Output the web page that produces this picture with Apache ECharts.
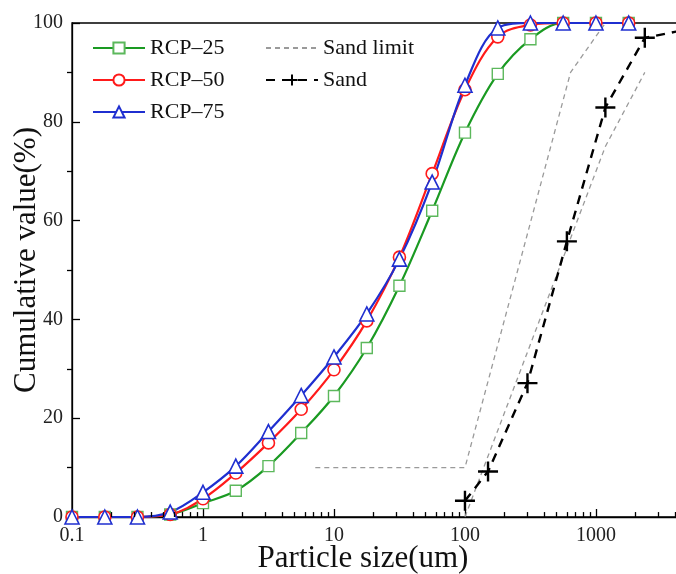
<!DOCTYPE html>
<html>
<head>
    <meta charset="utf-8">
    <title>Particle size distribution</title>
    <script src="https://cdn.jsdelivr.net/npm/echarts@6/dist/echarts.min.js"></script>
    <style>
        html, body { margin: 0; padding: 0; background: #fff; }
        #main { width: 676px; height: 574px; }
    </style>
</head>
<body>
<div id="main"></div>
<script type="text/javascript">
    // sieve sizes of the laser test (um)
    var sizes = [0.1, 0.178, 0.316, 0.562, 1, 1.78, 3.16, 5.62, 10, 17.8, 31.6, 56.2, 100, 178, 316, 562, 1000, 1778];
    var rcp25 = [0, 0, 0, 0.5, 2.8, 5.3, 10.3, 17, 24.5, 34.2, 46.8, 62, 77.8, 89.7, 96.7, 100, 100, 100];
    var rcp50 = [0, 0, 0, 0.5, 3.7, 8.9, 15, 21.8, 29.8, 39.7, 52.6, 69.5, 86.5, 97.2, 99.6, 100, 100, 100];
    var rcp75 = [0, 0, 0, 1, 5, 10.3, 17.3, 24.6, 32.4, 41.1, 52.2, 67.8, 87.4, 99, 100, 100, 100, 100];

    // sand and its grading limits
    var sandSizes = [100, 150, 300, 600, 1180, 2360, 4750];
    var sandValues = [3.3, 9.2, 27.1, 55.8, 82.9, 97, 98.6];
    var limitUpSizes = [7.2, 100, 640, 1180];
    var limitUpValues = [10, 10, 90, 100];
    var limitLowSizes = [100, 1180, 2360];
    var limitLowValues = [0, 75, 90];

    var xMin = 0.1, xMax = 4230;

    // minor ticks 2..9 of every decade (log axis minor ticks are not spaced this way)
    var minorTicks = [];
    [0.1, 1, 10, 100, 1000].forEach(function (d) {
        for (var k = 2; k <= 9; k++) {
            if (d * k < xMax) minorTicks.push(+(d * k).toPrecision(3));
        }
    });
    var minorTickLines = minorTicks.map(function (v) {
        return [{ xAxis: v, yAxis: 0 }, { xAxis: v, yAxis: 1 }];
    });

    function pairs(xs, ys) {
        var out = [];
        for (var i = 0; i < xs.length; i++) {
            out.push([xs[i], ys[i]]);
        }
        return out;
    }

    var font = 'Liberation Serif';
    var plus = 'path://M0,10L20,10M10,0L10,20';
    var clear = 'rgba(0,0,0,0)';

    var chart = echarts.init(document.getElementById('main'));
    var option = {
        animation: false,
        textStyle: { fontFamily: font },
        grid: {
            left: 72, right: -2, top: 23, bottom: 57,
            outerBoundsMode: 'none',
            containLabel: false,
            show: true, borderColor: '#000', borderWidth: 1.3
        },
        legend: [{
            data: ['RCP–25', 'RCP–50', 'RCP–75'],
            orient: 'vertical',
            left: 92, top: 37, padding: 0,
            itemWidth: 52, itemHeight: 14, itemGap: 10,
            textStyle: { fontFamily: font, fontSize: 22, color: '#111' }
        }, {
            data: ['Sand limit', 'Sand'],
            orient: 'vertical',
            left: 265, top: 37, padding: 0,
            itemWidth: 52, itemHeight: 14, itemGap: 10,
            textStyle: { fontFamily: font, fontSize: 22, color: '#111' }
        }],
        xAxis: {
            type: 'log',
            logBase: 10,
            min: xMin,
            max: xMax,
            name: 'Particle size(um)',
            nameLocation: 'middle',
            nameGap: 26,
            nameMoveOverlap: false,
            nameTextStyle: { fontFamily: font, fontSize: 31, color: '#111', padding: [0, 24, 0, 0] },
            axisLine: { onZero: false, lineStyle: { color: '#000', width: 1.3 } },
            axisTick: { inside: true, length: 8, lineStyle: { color: '#000', width: 1.3 } },
            axisLabel: {
                fontFamily: font, fontSize: 20, color: '#222', margin: 9,
                showMaxLabel: false,
                formatter: function (v) { return String(+v.toPrecision(3)); }
            },
            splitLine: { show: false }
        },
        yAxis: {
            type: 'value',
            min: 0,
            max: 100,
            interval: 20,
            name: 'Cumulative value(%)',
            nameLocation: 'middle',
            nameGap: 30,
            nameMoveOverlap: false,
            nameTextStyle: { fontFamily: font, fontSize: 31, color: '#111', padding: [0, 0, 0, 20] },
            axisLine: { show: true, onZero: false, lineStyle: { color: '#000', width: 1.3 } },
            axisTick: { show: true, inside: true, length: 8, lineStyle: { color: '#000', width: 1.3 } },
            minorTick: { show: true, splitNumber: 2, length: -5, lineStyle: { color: '#000', width: 1.3 } },
            axisLabel: { fontFamily: font, fontSize: 20, color: '#222', margin: 9 },
            splitLine: { show: false }
        },
        series: [{
            name: 'Sand limit',
            type: 'line',
            data: pairs(limitUpSizes, limitUpValues),
            symbol: 'circle',
            showSymbol: false,
            lineStyle: { color: '#9a9a9a', width: 1.3, type: [5, 4] },
            itemStyle: { color: clear, borderColor: clear },
            markLine: {
                silent: true,
                symbol: 'none',
                label: { show: false },
                lineStyle: { color: '#000', width: 1.3, type: 'solid' },
                emphasis: { disabled: true },
                data: minorTickLines
            }
        }, {
            name: 'Sand limit',
            type: 'line',
            data: pairs(limitLowSizes, limitLowValues),
            symbol: 'circle',
            showSymbol: false,
            lineStyle: { color: '#9a9a9a', width: 1.3, type: [5, 4] },
            itemStyle: { color: clear, borderColor: clear }
        }, {
            name: 'Sand',
            type: 'line',
            data: pairs(sandSizes, sandValues),
            symbol: plus,
            symbolSize: 20,
            lineStyle: { color: '#000', width: 2.4, type: [9, 7] },
            itemStyle: { color: clear, borderColor: '#000', borderWidth: 2.4 }
        }, {
            name: 'RCP–25',
            type: 'line',
            smooth: 0.35,
            data: pairs(sizes, rcp25),
            symbol: 'rect',
            symbolSize: 11,
            lineStyle: { color: '#1a9a22', width: 2.2 },
            itemStyle: { color: '#fff', borderColor: '#5cb85c', borderWidth: 1.4 }
        }, {
            name: 'RCP–50',
            type: 'line',
            smooth: 0.35,
            data: pairs(sizes, rcp50),
            symbol: 'circle',
            symbolSize: 12,
            lineStyle: { color: '#ff1a1a', width: 2.2 },
            itemStyle: { color: '#fff', borderColor: '#ff1a1a', borderWidth: 1.6 }
        }, {
            name: 'RCP–75',
            type: 'line',
            smooth: 0.35,
            data: pairs(sizes, rcp75),
            symbol: 'triangle',
            symbolSize: 14,
            lineStyle: { color: '#1f2fd0', width: 2.2 },
            itemStyle: { color: '#fff', borderColor: '#1f2fd0', borderWidth: 1.6 }
        }]
    };
    chart.setOption(option);
</script>
</body>
</html>
